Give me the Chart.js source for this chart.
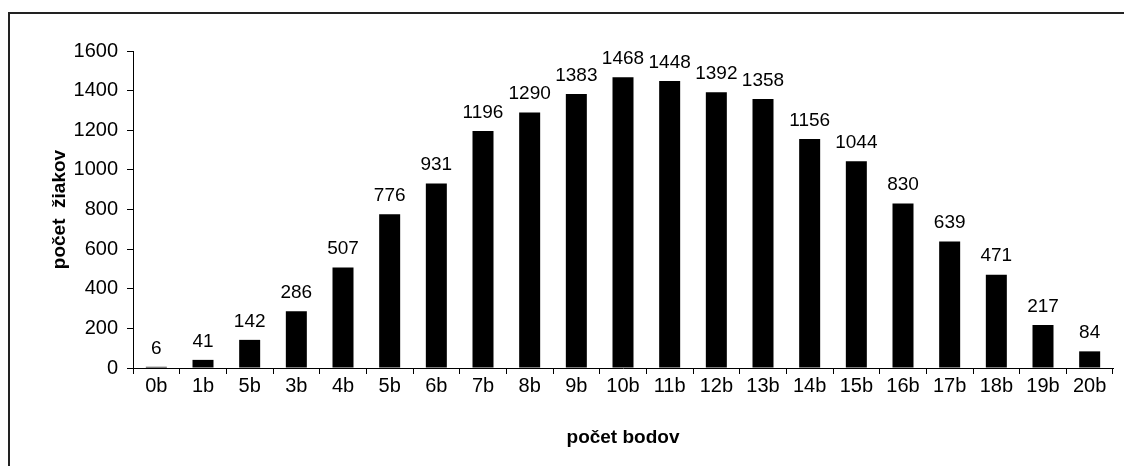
<!DOCTYPE html>
<html lang="sk">
<head>
    <meta charset="UTF-8">
    <title>počet žiakov podľa počtu bodov</title>
    <script src="https://cdn.jsdelivr.net/npm/chart.js"></script>
    <style>
        body { margin: 0; background: #fff; }
    </style>
</head>
<body>
    <canvas id="bodyChart" width="1124" height="466"></canvas>

    <script>
        // kategórie (os x) a počty žiakov
        const categories = ['0b', '1b', '5b', '3b', '4b', '5b', '6b', '7b', '8b', '9b', '10b',
            '11b', '12b', '13b', '14b', '15b', '16b', '17b', '18b', '19b', '20b'];
        const pocetZiakov = [6, 41, 142, 286, 507, 776, 931, 1196, 1290, 1383, 1468,
            1448, 1392, 1358, 1156, 1044, 830, 639, 471, 217, 84];
        const yMax = 1600;
        const yStep = 200;

        const fontFamily = 'Arial, "Liberation Sans", sans-serif';

        // rám okolo grafu (len hore a vľavo, zvyšok je orezaný)
        const framePlugin = {
            id: 'frame',
            beforeDraw(chart) {
                const c = chart.ctx;
                c.save();
                c.strokeStyle = '#222';
                c.lineWidth = 2;
                c.beginPath();
                c.moveTo(9, chart.height);
                c.lineTo(9, 13);
                c.lineTo(chart.width, 13);
                c.stroke();
                c.restore();
            }
        };

        // hodnoty nad stĺpcami
        const valueLabels = {
            id: 'valueLabels',
            afterDatasetsDraw(chart) {
                const c = chart.ctx;
                const meta = chart.getDatasetMeta(0);
                c.save();
                c.font = '19px ' + fontFamily;
                c.fillStyle = '#000';
                c.textAlign = 'center';
                c.textBaseline = 'bottom';
                meta.data.forEach((bar, i) => {
                    c.fillText(pocetZiakov[i], bar.x, bar.y - 9);
                });
                c.restore();
            }
        };

        const ctx = document.getElementById('bodyChart').getContext('2d');
        const chart = new Chart(ctx, {
            type: 'bar',
            data: {
                labels: categories,
                datasets: [{
                    label: 'počet žiakov',
                    data: pocetZiakov,
                    backgroundColor: '#000',
                    borderWidth: 0,
                    barPercentage: 0.45,
                    categoryPercentage: 1
                }]
            },
            options: {
                responsive: false,
                animation: false,
                layout: {
                    padding: { left: 0, top: 51, right: 11, bottom: 0 }
                },
                plugins: {
                    legend: { display: false },
                    tooltip: { enabled: false }
                },
                scales: {
                    x: {
                        grid: {
                            drawOnChartArea: false,
                            drawTicks: true,
                            tickLength: 6,
                            color: '#000'
                        },
                        border: { color: '#000', width: 1 },
                        ticks: {
                            color: '#000',
                            padding: 0,
                            maxRotation: 0,
                            autoSkip: false,
                            font: { family: fontFamily, size: 20 }
                        },
                        title: {
                            display: true,
                            text: 'počet bodov',
                            color: '#000',
                            padding: { top: 0, bottom: 17 },
                            font: { family: fontFamily, size: 19, weight: 'bold' }
                        },
                        afterFit(scale) { scale.height = 98; }
                    },
                    y: {
                        min: 0,
                        max: yMax,
                        grid: {
                            drawOnChartArea: false,
                            drawTicks: true,
                            tickLength: 6,
                            color: '#000'
                        },
                        border: { color: '#000', width: 1 },
                        ticks: {
                            stepSize: yStep,
                            color: '#000',
                            padding: 9,
                            font: { family: fontFamily, size: 20 },
                            callback: (v) => String(v)
                        },
                        title: {
                            display: true,
                            text: 'počet  žiakov',
                            color: '#000',
                            padding: { top: 48, bottom: 0 },
                            font: { family: fontFamily, size: 19, weight: 'bold' }
                        },
                        afterFit(scale) { scale.width = 133; }
                    }
                }
            },
            plugins: [framePlugin, valueLabels]
        });
    </script>
</body>
</html>
